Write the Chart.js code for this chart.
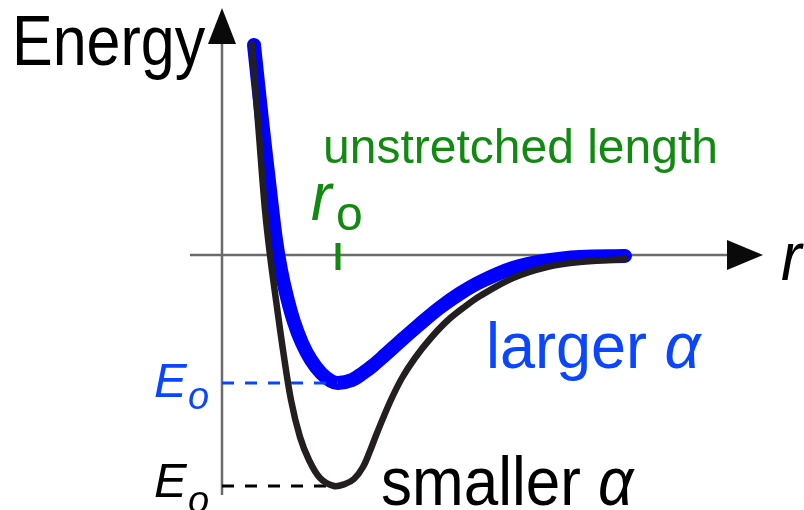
<!DOCTYPE html>
<html>
<head>
<meta charset="utf-8">
<script src="https://cdn.jsdelivr.net/npm/chart.js@4.4.1/dist/chart.umd.min.js"></script>
<style>
  html, body { margin: 0; padding: 0; background: #ffffff; }
  #wrap { width: 804px; height: 510px; }
</style>
</head>
<body>
<div id="wrap"><canvas id="c" width="804" height="510"></canvas></div>
<script>
// Separation r and potential energy E for a stiff bond (larger alpha)
const rLarger = [0.32, 0.40, 0.48, 0.54, 0.59, 0.65, 0.72, 0.80, 0.89, 0.99, 1.09, 1.16, 1.30, 1.41, 1.51, 1.63, 1.78, 1.98, 2.18, 2.38, 2.58, 2.91, 3.25, 3.58, 4.03];
const eLarger = [2.10, 1.35, 0.65, 0.15, -0.15, -0.42, -0.67, -0.88, -1.05, -1.18, -1.26, -1.28, -1.25, -1.18, -1.105, -1.00, -0.865, -0.69, -0.525, -0.385, -0.27, -0.13, -0.055, -0.02, -0.01];

// Same quantities for a softer, deeper well (smaller alpha)
const rSmaller = [0.30, 0.37, 0.43, 0.48, 0.54, 0.61, 0.69, 0.78, 0.87, 0.98, 1.12, 1.23, 1.32, 1.41, 1.48, 1.55, 1.68, 1.80, 1.93, 2.08, 2.25, 2.43, 2.58, 2.91, 3.25, 3.58, 4.03];
const eSmaller = [2.10, 1.20, 0.45, 0.00, -0.45, -0.95, -1.45, -1.82, -2.05, -2.23, -2.31, -2.29, -2.24, -2.12, -1.96, -1.78, -1.47, -1.23, -1.03, -0.84, -0.66, -0.515, -0.41, -0.23, -0.12, -0.07, -0.04];

// Well depths and equilibrium length
const e0Larger = -1.28;
const e0Smaller = -2.31;
const r0 = 1.16;

// Extent of the drawn axes
const rAxis = [-0.32, 5.05];
const eAxis = [-2.40, 2.12];

const toPts = (xs, ys) => xs.map((x, i) => ({ x: x, y: ys[i] }));

const BLUE = '#0000ff';
const LABEL_BLUE = '#0a46ff';
const DARK = '#231f20';
const GREEN = '#128a12';
const AXIS = '#6b6b6b';

function label(ctx, s, x, y, font, color, sy) {
  ctx.save();
  ctx.translate(x, y);
  ctx.scale(1, sy || 1);
  ctx.font = font;
  ctx.fillStyle = color;
  ctx.textAlign = 'left';
  ctx.textBaseline = 'alphabetic';
  ctx.fillText(s, 0, 0);
  const w = ctx.measureText(s).width;
  ctx.restore();
  return w;
}

const overlay = {
  id: 'overlay',
  afterDatasetsDraw(chart) {
    const ctx = chart.ctx;
    const xs = chart.scales.x, ys = chart.scales.y;
    const px = v => xs.getPixelForValue(v);
    const py = v => ys.getPixelForValue(v);
    const F = '"Liberation Sans", Arial, sans-serif';

    // arrowheads at the ends of both axes
    ctx.save();
    ctx.fillStyle = '#0a0a0a';
    const ax = px(0), ay = py(0);
    const top = py(eAxis[1]) - 35;
    ctx.beginPath();
    ctx.moveTo(ax, top);
    ctx.lineTo(ax - 14, top + 36);
    ctx.lineTo(ax + 14, top + 36);
    ctx.closePath();
    ctx.fill();
    const right = px(rAxis[1]) + 8;
    ctx.beginPath();
    ctx.moveTo(right + 28, ay);
    ctx.lineTo(right - 8, ay - 15);
    ctx.lineTo(right - 8, ay + 15);
    ctx.closePath();
    ctx.fill();
    ctx.restore();

    // axis titles
    label(ctx, 'Energy', 12, 65, '61px ' + F, '#000000', 1.15);
    label(ctx, 'r', 781, ay + 25, 'italic 62px ' + F, '#000000', 1.12);

    // equilibrium length marker text
    label(ctx, 'unstretched length', 323, 163, '48px ' + F, GREEN, 1);
    label(ctx, 'r', px(r0) - 27, 220, 'italic 62px ' + F, GREEN, 1.1);
    label(ctx, 'o', px(r0) - 2, 230, '48px ' + F, GREEN, 1);

    // well-depth labels
    label(ctx, 'E', 154, py(e0Larger) + 14, 'italic 49px ' + F, LABEL_BLUE, 1);
    label(ctx, 'o', 188, py(e0Larger) + 26, 'italic 38px ' + F, LABEL_BLUE, 1);
    label(ctx, 'E', 154, py(e0Smaller) + 11, 'italic 49px ' + F, '#000000', 1);
    label(ctx, 'o', 188, py(e0Smaller) + 27, 'italic 38px ' + F, '#000000', 1);

    // curve captions
    let w = label(ctx, 'larger ', 486, 368, '63px ' + F, LABEL_BLUE, 1.03);
    label(ctx, 'α', 486 + w, 368, 'italic 63px ' + F, LABEL_BLUE, 1.03);
    w = label(ctx, 'smaller ', 381, 505, '62px ' + F, '#000000', 1.12);
    label(ctx, 'α', 381 + w, 505, 'italic 62px ' + F, '#000000', 1.12);
  }
};

const lineDs = (data, color, width, extra) => Object.assign({
  data: data,
  borderColor: color,
  borderWidth: width,
  pointRadius: 0,
  fill: false,
  clip: false,
  tension: 0,
  borderCapStyle: 'butt'
}, extra || {});

new Chart(document.getElementById('c'), {
  type: 'line',
  data: {
    datasets: [
      lineDs(toPts(rSmaller, eSmaller), DARK, 6.5, { tension: 0.35, borderCapStyle: 'round', order: 1 }),
      lineDs(toPts(rLarger, eLarger), BLUE, 14, { tension: 0.35, borderCapStyle: 'round', order: 2 }),
      lineDs([{ x: 0, y: e0Larger }, { x: r0, y: e0Larger }], LABEL_BLUE, 3, { borderDash: [12, 11], order: 0 }),
      lineDs([{ x: 0, y: e0Smaller }, { x: 1.12, y: e0Smaller }], '#000000', 3, { borderDash: [12, 11], order: 3 }),
      lineDs([{ x: r0, y: 0.12 }, { x: r0, y: -0.15 }], GREEN, 5, { order: 4 }),
      lineDs([{ x: rAxis[0], y: 0 }, { x: rAxis[1], y: 0 }], AXIS, 2.5, { order: 5 }),
      lineDs([{ x: 0, y: eAxis[0] }, { x: 0, y: eAxis[1] }], AXIS, 2.5, { order: 5 })
    ]
  },
  options: {
    responsive: false,
    animation: false,
    devicePixelRatio: 1,
    layout: { padding: 0 },
    plugins: { legend: { display: false }, tooltip: { enabled: false } },
    scales: {
      x: { type: 'linear', min: -2.22, max: 5.82, display: false },
      y: { type: 'linear', min: -2.55, max: 2.55, display: false }
    }
  },
  plugins: [overlay]
});
</script>
</body>
</html>
